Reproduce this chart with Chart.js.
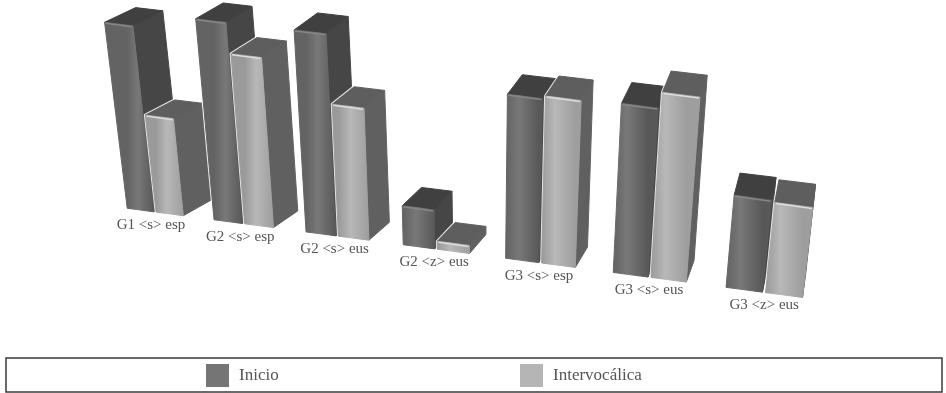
<!DOCTYPE html>
<html lang="es">
<head>
    <meta charset="UTF-8">
    <title>Inicio / Intervocálica</title>
    <script src="https://cdn.jsdelivr.net/npm/chart.js"></script>
    <style>
        html, body { margin: 0; background: #fff; }
        canvas { display: block; }
    </style>
</head>
<body>
    <canvas id="bars" width="946" height="393"></canvas>
    <script>
const categories = ['G1 <s> esp', 'G2 <s> esp', 'G2 <s> eus', 'G2 <z> eus', 'G3 <s> esp', 'G3 <s> eus', 'G3 <z> eus'];
const inicio = [93, 100.5, 101, 19.5, 82, 84.5, 46];
const intervocalica = [48.5, 85, 66, 4, 83.5, 92.5, 45];

const FONT = '"Liberation Serif", serif';
const INK = '#555';

// colours of the three visible faces of each block
const faces = [
    { front: ['#636363', '#787878', '#585858'], edge: '#868686', side: '#464646', top: '#404040' },
    { front: ['#9a9a9a', '#b8b8b8', '#9e9e9e'], edge: '#dcdcdc', side: '#606060', top: '#5e5e5e' }
];

// floor position for a fractional category index (bars get wider toward the viewer)
function floorX(t) { return 155 + 88.5 * t + 2.6 * t * (t - 1); }
function floorY(x) { return 208 + 0.132 * (x - 125); }
// vertical edges splay outward from the middle of the chart
function lean(x) { return (x - 475) * 0.00035; }
// depth edges run toward a vanishing point up and to the right
function depth(x) { return { x: 30 - 0.04 * (x - 130), y: -15 - 0.012 * (x - 130) }; }

function tracePath(ctx, pts) {
    ctx.beginPath();
    pts.forEach((p, i) => i ? ctx.lineTo(p.x, p.y) : ctx.moveTo(p.x, p.y));
    ctx.closePath();
}

function polygon(ctx, pts, fill) {
    tracePath(ctx, pts);
    ctx.fillStyle = fill;
    ctx.strokeStyle = fill;
    ctx.fill();
    ctx.stroke();
}

function back(p) {
    const d = depth(p.x);
    return { x: p.x + d.x, y: p.y + d.y };
}

function drawBlock(ctx, bar, toT, style) {
    const h = bar.base - bar.y;
    const corner = (u, up) => {
        const x = floorX(toT(u));
        return { x: x + lean(x) * up, y: floorY(x) - up };
    };
    const bl = corner(bar.x - bar.width / 2, 0);
    const br = corner(bar.x + bar.width / 2, 0);
    const tl = corner(bar.x - bar.width / 2, h);
    const tr = corner(bar.x + bar.width / 2, h);

    ctx.save();
    ctx.lineJoin = 'round';

    // pale outline that separates a block from whatever stands behind it
    tracePath(ctx, [bl, br, back(br), back(tr), back(tl), tl]);
    ctx.lineWidth = 3;
    ctx.strokeStyle = 'rgba(255,255,255,0.85)';
    ctx.stroke();

    ctx.lineWidth = 1;
    polygon(ctx, [br, back(br), back(tr), tr], style.side);
    polygon(ctx, [tl, tr, back(tr), back(tl)], style.top);

    const grad = ctx.createLinearGradient(bl.x, 0, br.x, 0);
    grad.addColorStop(0, style.front[0]);
    grad.addColorStop(0.4, style.front[1]);
    grad.addColorStop(1, style.front[2]);
    polygon(ctx, [bl, br, tr, tl], grad);

    ctx.strokeStyle = style.edge;
    ctx.lineWidth = 1.5;
    ctx.beginPath();
    ctx.moveTo(tl.x + 1, tl.y + 1);
    ctx.lineTo(tr.x - 1, tr.y + 1);
    ctx.stroke();
    ctx.restore();
}

const blocks3d = {
    id: 'blocks3d',
    beforeDatasetsDraw(chart) {
        const { ctx, scales: { x: xScale } } = chart;
        const u0 = xScale.getPixelForValue(0);
        const du = xScale.getPixelForValue(1) - u0;
        const toT = u => (u - u0) / du;

        categories.forEach((label, i) => {
            chart.data.datasets.forEach((ds, d) => {
                drawBlock(ctx, chart.getDatasetMeta(d).data[i], toT, faces[d]);
            });

            const x = floorX(i);
            ctx.save();
            ctx.font = '15px ' + FONT;
            ctx.fillStyle = INK;
            ctx.textAlign = 'center';
            ctx.textBaseline = 'middle';
            ctx.fillText(xScale.getLabelForValue(i), x - 4 + 0.7 * i, floorY(x) + 13);
            ctx.restore();
        });
        return false; // the blocks replace the flat bars
    },
    afterDraw(chart) {
        const { ctx } = chart;
        ctx.save();
        ctx.strokeStyle = '#3a3a3a';
        ctx.lineWidth = 1.5;
        ctx.strokeRect(6, 358, 936, 34);
        ctx.font = '17px ' + FONT;
        ctx.textBaseline = 'middle';
        [206, 520].forEach((x, d) => {
            const ds = chart.data.datasets[d];
            ctx.fillStyle = ds.backgroundColor;
            ctx.fillRect(x, 364, 23, 23);
            ctx.fillStyle = INK;
            ctx.fillText(ds.label, x + 33, 376);
        });
        ctx.restore();
    }
};

new Chart(document.getElementById('bars'), {
    type: 'bar',
    data: {
        labels: categories,
        datasets: [
            { label: 'Inicio', data: inicio, backgroundColor: '#757575' },
            { label: 'Intervocálica', data: intervocalica, backgroundColor: '#b5b5b5' }
        ]
    },
    options: {
        responsive: false,
        animation: false,
        categoryPercentage: 0.68,
        barPercentage: 0.92,
        layout: { padding: { top: 0, bottom: 173, left: 20, right: 20 } },
        scales: {
            x: { display: false },
            y: { display: false, min: 0, max: 110 }
        },
        plugins: { legend: { display: false }, tooltip: { enabled: false } }
    },
    plugins: [blocks3d]
});
    </script>
</body>
</html>
